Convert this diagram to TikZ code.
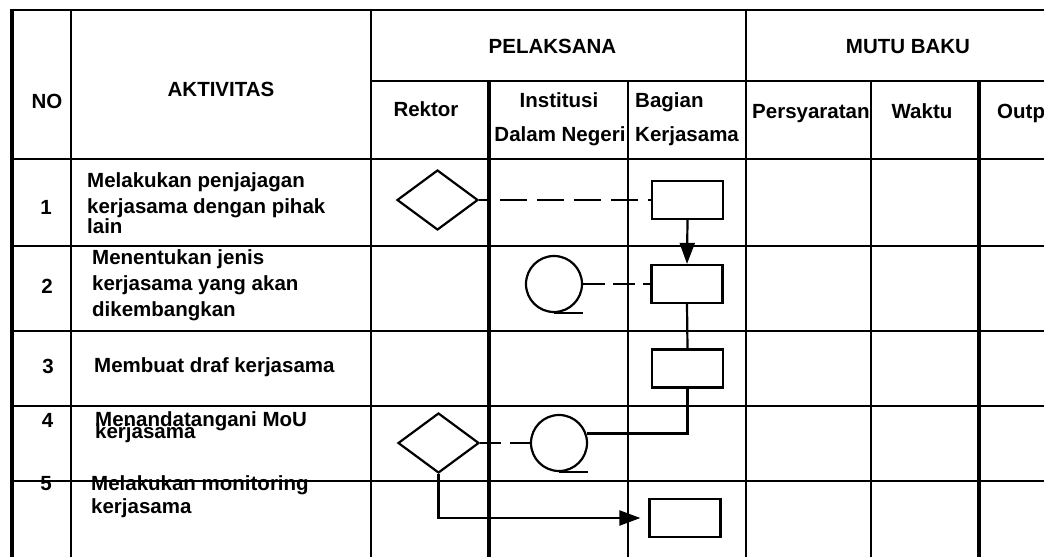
\documentclass[tikz,border=0pt]{standalone}
\usepackage{fontspec}
\setmainfont{Liberation Sans}
\usetikzlibrary{shapes.geometric,arrows.meta}
\begin{document}
\begin{tikzpicture}[x=1pt,y=-1pt,
  grid/.style={line width=2.4pt},
  gridthick/.style={line width=3.4pt},
  lbl/.style={font=\fontsize{20.5}{24}\selectfont\bfseries, inner sep=0pt, anchor=base west},
  clbl/.style={lbl, anchor=base},
  proc/.style={draw, line width=2.2pt, rectangle, minimum width=71pt, minimum height=38pt, inner sep=0pt},
  dec/.style={draw, line width=2.2pt, diamond, minimum width=81pt, minimum height=60pt, inner sep=0pt},
  conn/.style={draw, line width=2.2pt, circle, minimum size=56pt, inner sep=0pt},
  link/.style={line width=2.2pt},
  tip/.style={-{Triangle[length=21pt,width=15pt]}}
]
\useasboundingbox (0,0) rectangle (1044,557);
% table grid
\draw[gridthick] (12,9) -- (12,557);
\draw[grid] (71,9) -- (71,557);
\draw[grid] (371,9) -- (371,557);
\draw[gridthick] (489,81) -- (489,557);
\draw[grid] (628,81) -- (628,557);
\draw[grid] (746,9) -- (746,557);
\draw[grid] (871,81) -- (871,557);
\draw[gridthick] (979,81) -- (979,557);
\draw[grid] (11,10) -- (1044,10);
\draw[grid] (371,81) -- (1044,81);
\foreach \y in {159,246,331,406,481} \draw[grid] (11,\y) -- (1044,\y);
% header texts
\node[clbl] (hno) at (47,108) {NO};
\node[clbl] (hakt) at (221,96.7) {AKTIVITAS};
\node[clbl] (hpel) at (552.5,53.3) {PELAKSANA};
\node[clbl] (hmutu) at (908,53.3) {MUTU BAKU};
\node[clbl] (hrek) at (426,116.7) {Rektor};
\node[clbl] (hins) at (559,107.3) {Institusi};
\node[clbl] (hdal) at (560,141.7) {Dalam Negeri};
\node[lbl] (hbag) at (635,107.3) {Bagian};
\node[lbl] (hker) at (635,141.7) {Kerjasama};
\node[lbl] (hper) at (752,118.3) {Persyaratan};
\node[clbl] (hwak) at (922,118.3) {Waktu};
\node[lbl] (hout) at (997,118.3) {Outp};
% row numbers
\node[clbl] (n1) at (46,214) {1};
\node[clbl] (n2) at (47,293) {2};
\node[clbl] (n3) at (48,373) {3};
\node[clbl] (n4) at (47.5,427) {4};
\node[clbl] (n5) at (46,490) {5};
% activities
\node[lbl] (a1a) at (87,187.3) {Melakukan penjajagan};
\node[lbl] (a1b) at (87,213.3) {kerjasama dengan pihak};
\node[lbl] (a1c) at (87,233.3) {lain};
\node[lbl] (a2a) at (92,264) {Menentukan jenis};
\node[lbl] (a2b) at (92,290) {kerjasama yang akan};
\node[lbl] (a2c) at (92,316.7) {dikembangkan};
\node[lbl] (a3a) at (94,372.7) {Membuat draf kerjasama};
\node[lbl] (a4a) at (95,426) {Menandatangani MoU};
\node[lbl] (a4b) at (95,438) {kerjasama};
\node[lbl] (a5a) at (91,490) {Melakukan monitoring};
\node[lbl] (a5b) at (91,513.3) {kerjasama};
% flow symbols
\node[dec] (d1) at (437.5,200) {};
\node[proc] (b1) at (687.5,200) {};
\node[conn] (c2) at (554,284) {};
\node[proc] (b2) at (687,284) {};
\node[proc] (b3) at (687.5,368.5) {};
\node[dec] (d2) at (438.5,443) {};
\node[conn] (c4) at (559,443) {};
\node[proc] (b5) at (685,518) {};
% circle tails
\draw[link] (c2.south) -- (c2.south -| c2.east);
\draw[link] (c4.south) -- (c4.south -| c4.east);
% connectors
\draw[link, dash pattern=on 27pt off 10pt, dash phase=16pt] (d1.east) -- (b1.west);
\draw[link, tip] (b1.south) -- (b2.north);
\draw[link, dash pattern=on 22pt off 8pt] (c2.east) -- (b2.west);
\draw[link] (b2.south) -- (b3.north);
\draw[link] (b3.south) |- (c4.19);
\draw[link, dash pattern=on 21pt off 9pt] (d2.east) -- (c4.west);
\draw[link, tip, shorten >=8pt] (d2.south) |- (b5.west);
\end{tikzpicture}
\end{document}
